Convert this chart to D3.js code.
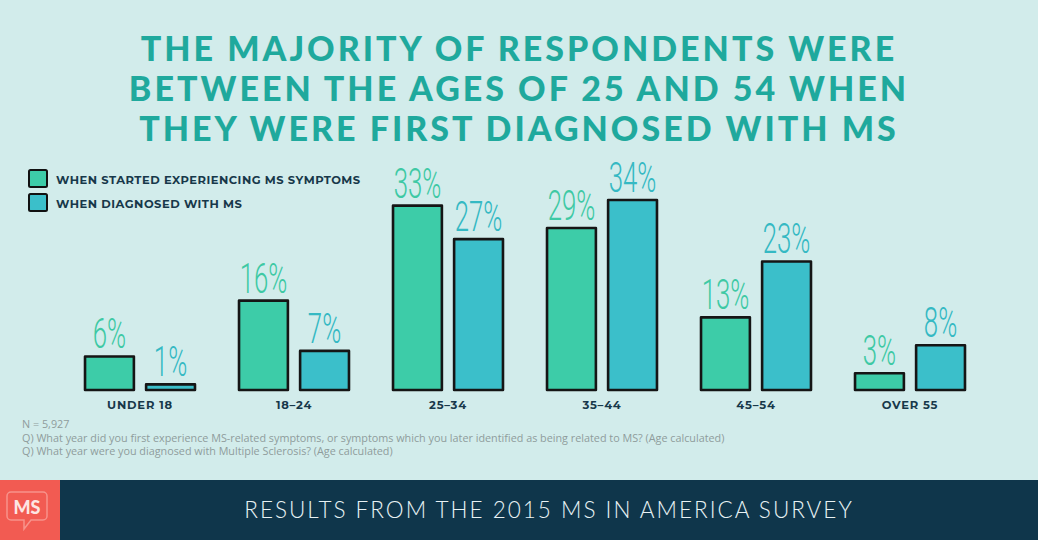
<!DOCTYPE html>
<html><head><meta charset="utf-8">
<script src="https://cdn.jsdelivr.net/npm/d3@7"></script>
<style>
html,body{margin:0;padding:0;background:#d2eceb;}
svg{display:block;}
</style></head>
<body>
<svg id="chart" width="1038" height="540"></svg>
<script>
const categories = ["UNDER 18","18-24","25-34","35-44","45-54","OVER 55"];
const seriesNames = ["WHEN STARTED EXPERIENCING MS SYMPTOMS","WHEN DIAGNOSED WITH MS"];
const symptoms = [6,16,33,29,13,3];
const diagnosed = [1,7,27,34,23,8];
const titleLines = ["THE MAJORITY OF RESPONDENTS WERE","BETWEEN THE AGES OF 25 AND 54 WHEN","THEY WERE FIRST DIAGNOSED WITH MS"];
const notes = ["N = 5,927","Q) What year did you first experience MS-related symptoms, or symptoms which you later identified as being related to MS? (Age calculated)","Q) What year were you diagnosed with Multiple Sclerosis? (Age calculated)"];
const footerText = "RESULTS FROM THE 2015 MS IN AMERICA SURVEY";

const colors = ["#3dcca8","#3bbfca"];
const labelColors = ["#3ec9a4","#35b9c3"];
const svg = d3.select("#chart");
const W = 1038, H = 540;

svg.append("rect").attr("width",W).attr("height",H).attr("fill","#d2eceb");

// Title
svg.append("g").selectAll("text").data(titleLines).join("text")
  .attr("x",519).attr("y",(d,i)=>61+i*40)
  .attr("text-anchor","middle")
  .attr("font-family","Lato, 'Open Sans', sans-serif")
  .attr("font-weight",900).attr("font-size",34)
  .attr("letter-spacing",3)
  .attr("fill","#1fa99d")
  .text(d=>d);

// Legend
const leg = svg.append("g").selectAll("g").data(seriesNames).join("g")
  .attr("transform",(d,i)=>`translate(29,${170+i*24})`);
leg.append("rect").attr("width",18).attr("height",17)
  .attr("fill",(d,i)=>colors[i]).attr("stroke","#111").attr("stroke-width",2).attr("rx",1.5);
leg.append("text").attr("x",27).attr("y",13.5)
  .attr("font-family","Montserrat, Lato, 'Open Sans', sans-serif").attr("font-weight",700)
  .attr("font-size",11.5).attr("letter-spacing",0.5).attr("fill","#17384a").text(d=>d);

// Scales
const x0 = d3.scaleBand().domain(categories).range([63,987]).paddingInner(0.286).paddingOuter(0.143);
const x1 = d3.scaleBand().domain([0,1]).range([0,x0.bandwidth()]).paddingInner(0.2);
const y = d3.scaleLinear().domain([0,34]).range([390,200]);

const data = categories.map((c,i)=>({cat:c, vals:[symptoms[i],diagnosed[i]]}));
const groups = svg.append("g").selectAll("g").data(data).join("g")
  .attr("transform",d=>`translate(${x0(d.cat)},0)`);

const bars = groups.selectAll("g.bar").data(d=>d.vals.map((v,k)=>({v,k}))).join("g").attr("class","bar");
bars.append("rect")
  .attr("x",d=>x1(d.k)).attr("width",x1.bandwidth())
  .attr("y",d=>y(d.v)).attr("height",d=>Math.max(3,y(0)-y(d.v)))
  .attr("fill",d=>colors[d.k]).attr("stroke","#151515").attr("stroke-width",2.6)
  .attr("stroke-linejoin","round");
bars.append("text")
  .attr("transform",d=>`translate(${x1(d.k)+x1.bandwidth()/2},${y(d.v)-8}) scale(0.6,1)`)
  .attr("text-anchor","middle")
  .attr("font-family","Roboto, 'Open Sans', sans-serif").attr("font-weight",300)
  .attr("font-size",43).attr("fill",d=>labelColors[d.k])
  .text(d=>d.v+"%");

// Axis labels
const xAxis = d3.axisBottom(x0).tickSize(0).tickPadding(0).tickFormat(d=>d.replace("-","–"));
const ax = svg.append("g").attr("transform","translate(0,401)").call(xAxis);
ax.select(".domain").remove();
ax.selectAll("text").attr("font-family","Montserrat, Lato, 'Open Sans', sans-serif")
  .attr("font-weight",700).attr("font-size",11.5).attr("letter-spacing",0.8).attr("fill","#17384a");

// Notes
svg.append("g").selectAll("text").data(notes).join("text")
  .attr("x",22).attr("y",(d,i)=>428+i*13.5)
  .attr("font-family","'Open Sans', Lato, sans-serif").attr("font-size",10.8)
  .attr("fill","#8f9c9c").text(d=>d);

// Footer
svg.append("rect").attr("x",0).attr("y",480).attr("width",W).attr("height",60).attr("fill","#0f364b");
svg.append("rect").attr("x",0).attr("y",480).attr("width",60).attr("height",60).attr("fill","#f25b52");
const logo = svg.append("g").attr("transform","translate(0,480)");
logo.append("path")
  .attr("d","M11,12 h32 a4,4 0 0 1 4,4 v20 a4,4 0 0 1 -4,4 h-12 l-7,9 v-9 h-13 a4,4 0 0 1 -4,-4 v-20 a4,4 0 0 1 4,-4 z")
  .attr("fill","none").attr("stroke","#f7938b").attr("stroke-width",1.5);
logo.append("text").attr("x",27).attr("y",34).attr("text-anchor","middle")
  .attr("font-family","Lato, sans-serif").attr("font-weight",900).attr("font-size",18)
  .attr("fill","#fde5e2").text("MS");
svg.append("text").attr("x",549).attr("y",518).attr("text-anchor","middle")
  .attr("font-family","Lato, 'Open Sans', sans-serif").attr("font-weight",300)
  .attr("font-size",22.5).attr("letter-spacing",2).attr("fill","#e8f2f4").text(footerText);
</script>
</body></html>
